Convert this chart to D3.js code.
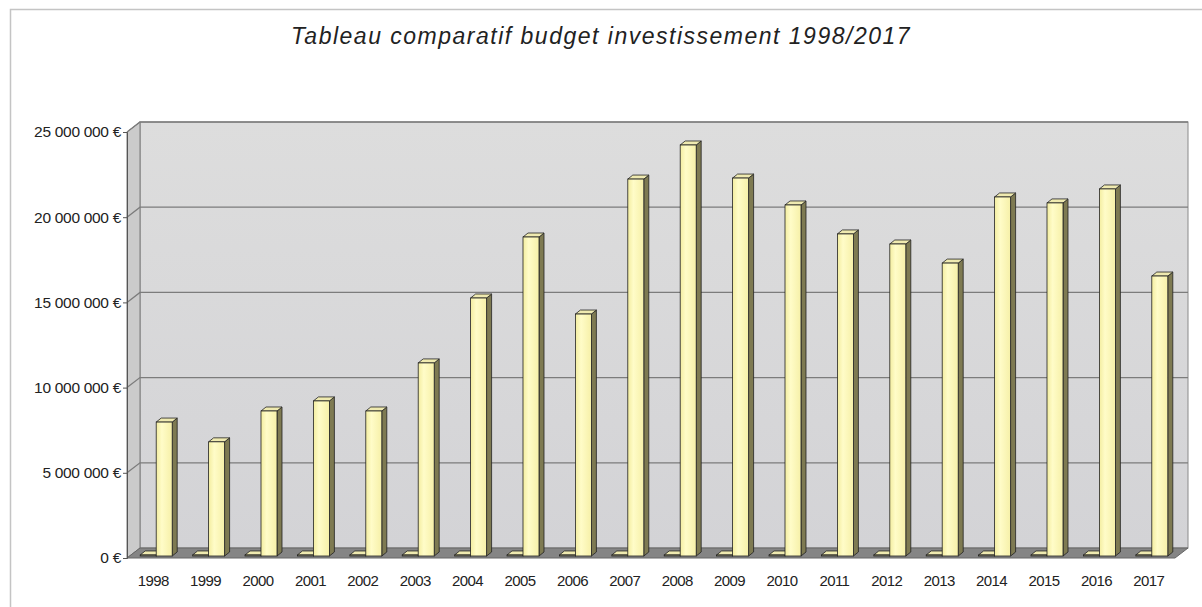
<!DOCTYPE html>
<html>
<head>
<meta charset="utf-8">
<script src="https://cdn.jsdelivr.net/npm/d3@7"></script>
<style>
  body { margin: 0; background: #fff; }
  text { font-family: "Liberation Sans", Arial, sans-serif; fill: #222; }
</style>
</head>
<body>
<div class="chart"></div>
<script>
var years = ["1998", "1999", "2000", "2001", "2002", "2003", "2004", "2005", "2006", "2007",
    "2008", "2009", "2010", "2011", "2012", "2013", "2014", "2015", "2016", "2017"];

// small flat series (near zero) and main investment budget
var seriesSmall = [60000, 60000, 60000, 60000, 60000, 60000, 60000, 60000, 60000, 60000,
    60000, 60000, 60000, 60000, 60000, 60000, 60000, 60000, 60000, 60000];
var budget = [7860000, 6700000, 8510000, 9100000, 8510000, 11330000, 15140000, 18720000, 14200000, 22120000,
    24120000, 22180000, 20600000, 18900000, 18310000, 17190000, 21070000, 20720000, 21540000, 16430000];

var yTicks = [0, 5000000, 10000000, 15000000, 20000000, 25000000];

var svgWidth = 1202;
var svgHeight = 607;

// front plane of the 3d box and depth offset
var front = { left: 127, right: 1175, bottom: 558, top: 132 };
var depth = { dx: 13, dy: -10 };
var barDepth = { dx: 5, dy: -4 };
var barShift = { dx: 4, dy: -2 };

var svg = d3.select(".chart")
    .append("svg")
    .attr("width", svgWidth)
    .attr("height", svgHeight);

var defs = svg.append("defs");
var wallGrad = defs.append("linearGradient")
    .attr("id", "wallGrad")
    .attr("x1", 0).attr("y1", 0).attr("x2", 0).attr("y2", 1);
wallGrad.append("stop").attr("offset", "0%").attr("stop-color", "#dddddd");
wallGrad.append("stop").attr("offset", "100%").attr("stop-color", "#d3d3d6");

var barGrad = defs.append("linearGradient")
    .attr("id", "barGrad")
    .attr("x1", 0).attr("y1", 0).attr("x2", 1).attr("y2", 0);
barGrad.append("stop").attr("offset", "0%").attr("stop-color", "#f3eda0");
barGrad.append("stop").attr("offset", "35%").attr("stop-color", "#fffcc8");
barGrad.append("stop").attr("offset", "100%").attr("stop-color", "#f6f0a8");

// outer frame
svg.append("rect")
    .attr("x", 10.5)
    .attr("y", 9.5)
    .attr("width", 1220)
    .attr("height", 620)
    .attr("fill", "none")
    .attr("stroke", "#c4c4c4")
    .attr("stroke-width", 1.5);

svg.append("text")
    .attr("x", 601)
    .attr("y", 44)
    .attr("text-anchor", "middle")
    .attr("font-size", "23px")
    .attr("font-style", "italic")
    .attr("letter-spacing", "1.5px")
    .text("Tableau comparatif budget investissement 1998/2017");

var xScale = d3.scaleBand()
    .domain(years)
    .range([front.left, front.right]);

var seriesScale = d3.scaleBand()
    .domain(["small", "budget"])
    .range([-17, 15]);

var yScale = d3.scaleLinear()
    .domain([0, 25000000])
    .range([front.bottom, front.top]);

function pts(arr) {
    return arr.map(function(p) { return p.join(","); }).join(" ");
}

// back wall
svg.append("rect")
    .attr("x", front.left + depth.dx)
    .attr("y", front.top + depth.dy)
    .attr("width", front.right - front.left)
    .attr("height", front.bottom - front.top)
    .attr("fill", "url(#wallGrad)")
    .attr("stroke", "#8a8a8a")
    .attr("stroke-width", 1);

// left side wall
svg.append("polygon")
    .attr("points", pts([
        [front.left, front.top],
        [front.left + depth.dx, front.top + depth.dy],
        [front.left + depth.dx, front.bottom + depth.dy],
        [front.left, front.bottom]
    ]))
    .attr("fill", "#cbcbcb")
    .attr("stroke", "#7a7a7a")
    .attr("stroke-width", 1);

// floor
svg.append("polygon")
    .attr("points", pts([
        [front.left, front.bottom],
        [front.left + depth.dx, front.bottom + depth.dy],
        [front.right + depth.dx, front.bottom + depth.dy],
        [front.right, front.bottom]
    ]))
    .attr("fill", "#858585")
    .attr("stroke", "#666")
    .attr("stroke-width", 1);

// gridlines on side wall and back wall
var grid = svg.append("g");
yTicks.forEach(function(t) {
    if (t === 0) return;
    var yf = yScale(t);
    grid.append("polyline")
        .attr("points", pts([
            [front.left, yf],
            [front.left + depth.dx, yf + depth.dy],
            [front.right + depth.dx, yf + depth.dy]
        ]))
        .attr("fill", "none")
        .attr("stroke", "#7c7c7c")
        .attr("stroke-width", 1.3);
});

// left axis
var leftAxis = d3.axisLeft(yScale)
    .tickValues(yTicks)
    .tickSize(4)
    .tickPadding(2)
    .tickFormat(function(d) {
        return (d === 0 ? "0" : d3.format(",")(d).replace(/,/g, " ")) + " €";
    });

var yAxisG = svg.append("g")
    .attr("transform", "translate(" + front.left + ",0)")
    .call(leftAxis);
yAxisG.select(".domain").attr("stroke", "#555");
yAxisG.selectAll(".tick line").attr("stroke", "#555");
yAxisG.selectAll(".tick text")
    .attr("font-size", "15.5px")
    .attr("font-family", "Liberation Sans, Arial, sans-serif")
    .attr("fill", "#222")
    .attr("letter-spacing", "-0.3px");

// bottom labels
var xAxisG = svg.append("g")
    .attr("transform", "translate(0," + (front.bottom + 2) + ")")
    .call(d3.axisBottom(xScale).tickSize(0).tickPadding(15));
xAxisG.select(".domain").remove();
xAxisG.selectAll(".tick text")
    .attr("font-size", "15px")
    .attr("font-family", "Liberation Sans, Arial, sans-serif")
    .attr("fill", "#222")
    .attr("letter-spacing", "-0.6px");

// 3d bars
function drawBar(g, x0, w, yTop, yBase) {
    var d = barDepth;
    g.append("polygon")
        .attr("points", pts([
            [x0 + w, yTop], [x0 + w + d.dx, yTop + d.dy],
            [x0 + w + d.dx, yBase + d.dy], [x0 + w, yBase]
        ]))
        .attr("fill", "#7e7a52")
        .attr("stroke", "#222")
        .attr("stroke-width", 0.8);
    g.append("polygon")
        .attr("points", pts([
            [x0, yTop], [x0 + d.dx, yTop + d.dy],
            [x0 + w + d.dx, yTop + d.dy], [x0 + w, yTop]
        ]))
        .attr("fill", "#efeab0")
        .attr("stroke", "#222")
        .attr("stroke-width", 0.8);
    g.append("rect")
        .attr("x", x0)
        .attr("y", yTop)
        .attr("width", w)
        .attr("height", Math.max(0, yBase - yTop))
        .attr("fill", "url(#barGrad)")
        .attr("stroke", "#222")
        .attr("stroke-width", 0.8);
}

var barsGroup = svg.append("g");
years.forEach(function(yr, i) {
    var cx = xScale(yr) + xScale.bandwidth() / 2 + barShift.dx;
    var base = yScale(0) + barShift.dy;
    var small = seriesSmall[i];
    var big = budget[i];
    drawBar(barsGroup, cx + seriesScale("small"), seriesScale.bandwidth(),
        yScale(small) + barShift.dy, base);
    drawBar(barsGroup, cx + seriesScale("budget"), seriesScale.bandwidth(),
        yScale(big) + barShift.dy, base);
});
</script>
</body>
</html>
